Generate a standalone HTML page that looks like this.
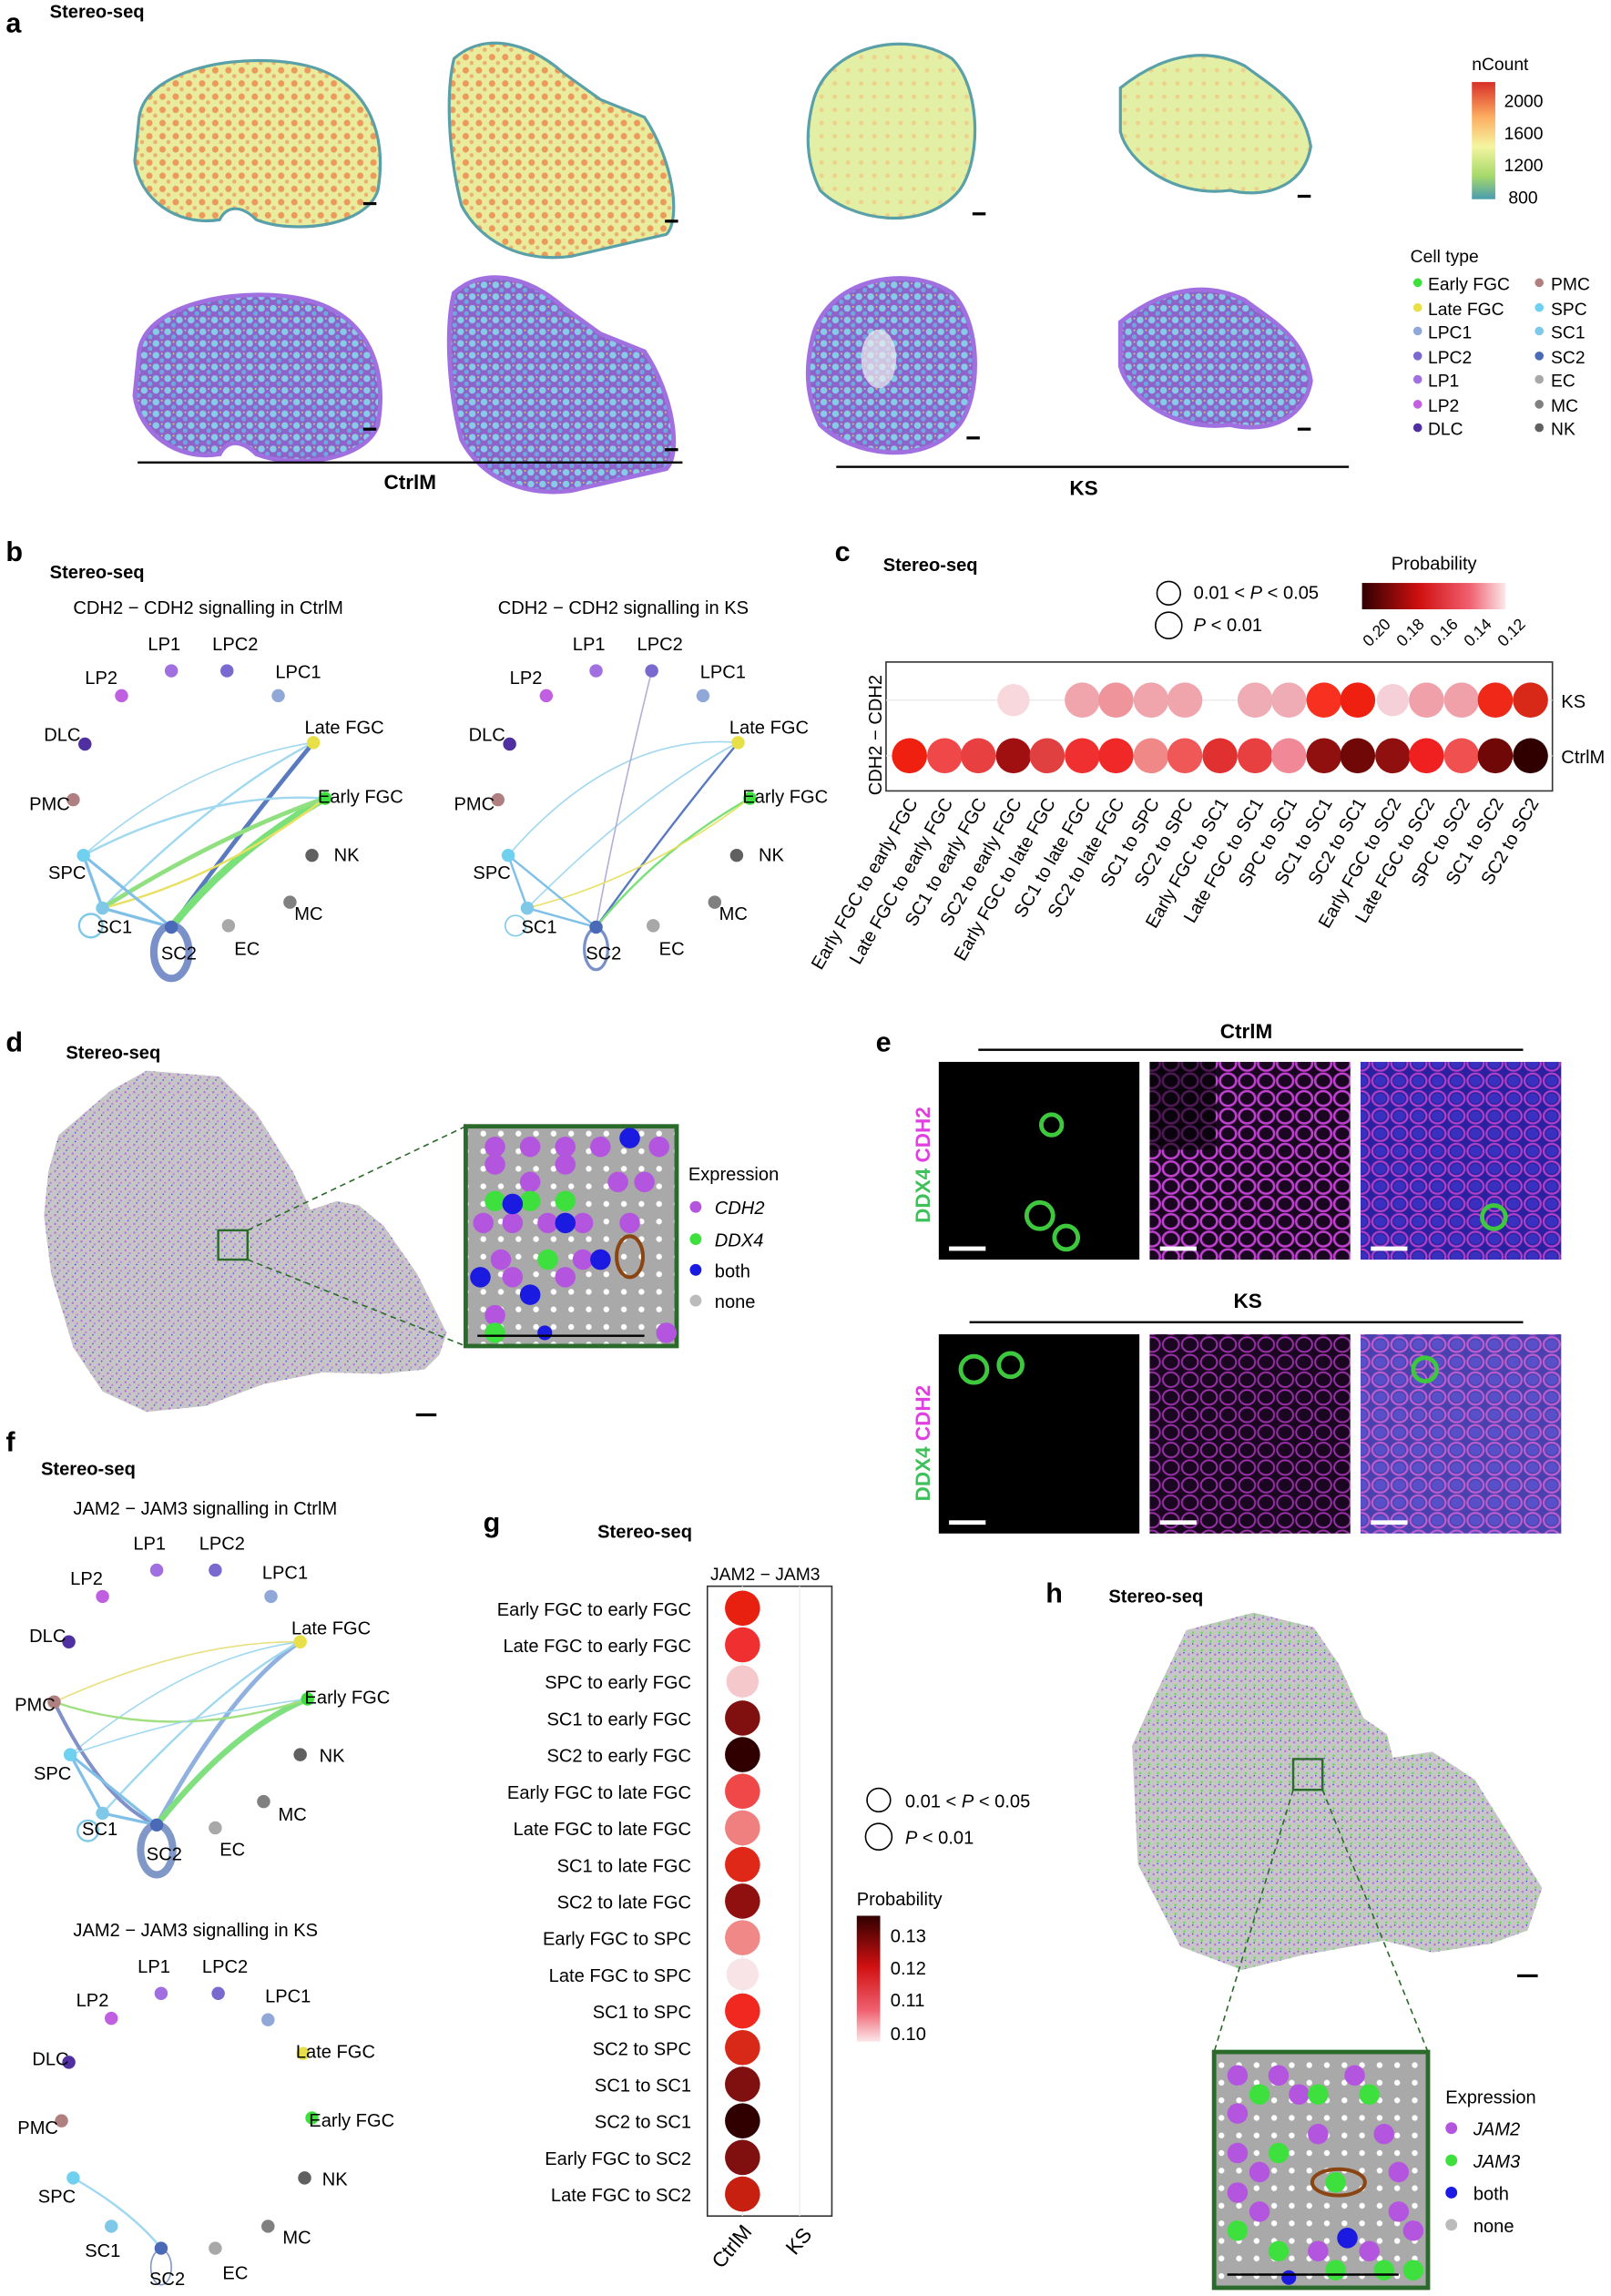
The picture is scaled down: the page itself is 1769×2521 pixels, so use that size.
<!DOCTYPE html>
<html><head><meta charset="utf-8"><style>
html,body{margin:0;padding:0;background:#fff}
svg{display:block;font-family:"Liberation Sans",Arial,sans-serif}
</style></head><body>
<svg width="1769" height="2521" viewBox="0 0 1100 1567.6" xmlns="http://www.w3.org/2000/svg">
<defs>
<pattern id="heat" width="9" height="9" patternUnits="userSpaceOnUse"><rect width="9" height="9" fill="#e9ec9c"/><circle cx="3" cy="3" r="2.2" fill="#ec9a5c"/><circle cx="7" cy="7" r="1.4" fill="#e9b070"/></pattern>
<pattern id="heat2" width="9" height="9" patternUnits="userSpaceOnUse"><rect width="9" height="9" fill="#e2efa4"/><circle cx="3" cy="3" r="1.5" fill="#eed08a"/></pattern>
<pattern id="cell" width="8" height="8" patternUnits="userSpaceOnUse"><rect width="8" height="8" fill="#8e62c8"/><circle cx="2.5" cy="2.5" r="2.3" fill="#86cbe8"/><circle cx="6.5" cy="6" r="1.6" fill="#6ea8e0"/><rect x="6" y="1" width="1" height="1" fill="#d8e060"/></pattern>
<pattern id="gray" width="6" height="6" patternUnits="userSpaceOnUse"><rect width="6" height="6" fill="#c6c6c6"/><rect x="1" y="1" width="1.3" height="1.3" fill="#b868e0"/><rect x="4" y="3" width="1.3" height="1.3" fill="#c080e0"/><rect x="3" y="5" width="0.8" height="0.8" fill="#2a2ae0"/></pattern>
<pattern id="gray2" width="6" height="6" patternUnits="userSpaceOnUse"><rect width="6" height="6" fill="#c6c6c6"/><rect x="1" y="1" width="1.3" height="1.3" fill="#b868e0"/><rect x="4" y="4" width="1.3" height="1.3" fill="#58e048"/><rect x="4" y="0" width="0.8" height="0.8" fill="#2a2ae0"/></pattern>
<pattern id="inset" width="12" height="12" patternUnits="userSpaceOnUse"><rect width="12" height="12" fill="#a9a9a9"/><circle cx="6" cy="6" r="2" fill="#fff"/></pattern>
<pattern id="mesh" width="13" height="12" patternUnits="userSpaceOnUse"><rect width="13" height="12" fill="#1a0620"/><ellipse cx="6.5" cy="6" rx="5.5" ry="5" fill="none" stroke="#c040d0" stroke-width="1.6"/></pattern>
<pattern id="mesh2" width="13" height="12" patternUnits="userSpaceOnUse"><rect width="13" height="12" fill="#1a0620"/><ellipse cx="6.5" cy="6" rx="5.5" ry="5" fill="none" stroke="#9a30a8" stroke-width="1.2"/></pattern>
<pattern id="meshb" width="13" height="12" patternUnits="userSpaceOnUse"><rect width="13" height="12" fill="#2a20a0"/><ellipse cx="6.5" cy="6" rx="4" ry="3.5" fill="#3a30c0"/><ellipse cx="6.5" cy="6" rx="5.5" ry="5" fill="none" stroke="#b040c8" stroke-width="1.4"/></pattern>
<linearGradient id="nc" x1="0" y1="0" x2="0" y2="1"><stop offset="0" stop-color="#d73027"/><stop offset=".3" stop-color="#fdae61"/><stop offset=".55" stop-color="#f5f5a0"/><stop offset=".8" stop-color="#a6d96a"/><stop offset="1" stop-color="#4a9cb0"/></linearGradient>
<linearGradient id="pr" x1="0" y1="0" x2="1" y2="0"><stop offset="0" stop-color="#300000"/><stop offset=".4" stop-color="#d01010"/><stop offset=".75" stop-color="#f06070"/><stop offset="1" stop-color="#fbe8ea"/></linearGradient>
<linearGradient id="pr2" x1="0" y1="0" x2="0" y2="1"><stop offset="0" stop-color="#300000"/><stop offset=".4" stop-color="#d01010"/><stop offset=".75" stop-color="#f06070"/><stop offset="1" stop-color="#fbe8ea"/></linearGradient>
</defs>
<g font-weight="bold" font-size="19"><text x="4" y="22">a</text><text x="4" y="383">b</text><text x="570" y="383">c</text><text x="4" y="718">d</text><text x="598" y="718">e</text><text x="4" y="991">f</text><text x="330" y="1046">g</text><text x="714" y="1094">h</text></g>
<g font-weight="bold" font-size="12.5"><text x="34" y="12">Stereo-seq</text><text x="34" y="395">Stereo-seq</text><text x="603" y="390">Stereo-seq</text><text x="45" y="723">Stereo-seq</text><text x="28" y="1007">Stereo-seq</text><text x="408" y="1050">Stereo-seq</text><text x="757" y="1094">Stereo-seq</text></g>
<!-- panel a -->
<g stroke="#5aa0a8" stroke-width="2">
<path d="M95,80 C100,45 170,35 210,45 C250,55 265,90 258,130 C250,155 200,160 175,150 C165,140 155,140 150,150 C120,155 95,135 92,110 Z" fill="url(#heat)"/>
<path d="M310,40 C330,22 360,28 385,50 L410,68 L440,80 C460,110 465,150 455,160 L390,175 C350,180 325,160 315,140 C305,100 305,60 310,40 Z" fill="url(#heat)"/>
<path d="M555,70 C565,30 620,20 650,40 C670,60 670,110 655,130 C630,160 580,150 560,130 C550,110 550,90 555,70 Z" fill="url(#heat2)"/>
<path d="M765,60 C790,40 820,30 850,45 C870,60 890,70 895,100 C890,130 860,135 840,130 C800,135 770,110 765,90 Z" fill="url(#heat2)"/>
</g>
<g stroke="#a070e0" stroke-width="3">
<path d="M95,240 C100,205 170,195 210,205 C250,215 265,250 258,290 C250,315 200,320 175,310 C165,300 155,300 150,310 C120,315 95,295 92,270 Z" fill="url(#cell)"/>
<path d="M310,200 C330,182 360,188 385,210 L410,228 L440,240 C460,270 465,310 455,320 L390,335 C350,340 325,320 315,300 C305,260 305,220 310,200 Z" fill="url(#cell)"/>
<path d="M555,230 C565,190 620,180 650,200 C670,220 670,270 655,290 C630,320 580,310 560,290 C550,270 550,250 555,230 Z" fill="url(#cell)"/>
<path d="M765,220 C790,200 820,190 850,205 C870,220 890,230 895,260 C890,290 860,295 840,290 C800,295 770,270 765,250 Z" fill="url(#cell)"/>
</g>
<ellipse cx="600" cy="245" rx="12" ry="20" fill="#eee" opacity=".7"/>
<g fill="#000"><rect x="248" y="138" width="9" height="2"/><rect x="454" y="150" width="9" height="2"/><rect x="664" y="145" width="9" height="2"/><rect x="886" y="133" width="9" height="2"/><rect x="248" y="292" width="9" height="2"/><rect x="454" y="306" width="9" height="2"/><rect x="660" y="298" width="9" height="2"/><rect x="886" y="292" width="9" height="2"/></g>
<rect x="94" y="315" width="372" height="1.5"/><rect x="571" y="318" width="350" height="1.5"/>
<g font-weight="bold" font-size="14" text-anchor="middle"><text x="280" y="334">CtrlM</text><text x="740" y="338">KS</text></g>
<text x="1005" y="48" font-size="12">nCount</text>
<rect x="1005" y="56" width="16" height="80" fill="url(#nc)"/>
<g font-size="12"><text x="1027" y="73">2000</text><text x="1027" y="95">1600</text><text x="1027" y="117">1200</text><text x="1030" y="139">800</text></g>
<text x="963" y="179" font-size="12">Cell type</text>
<g font-size="12">
<circle cx="968" cy="193" r="3" fill="#3ee03e"/><text x="975" y="198">Early FGC</text>
<circle cx="968" cy="210" r="3" fill="#e8e048"/><text x="975" y="215">Late FGC</text>
<circle cx="968" cy="226" r="3" fill="#90a8d8"/><text x="975" y="231">LPC1</text>
<circle cx="968" cy="243" r="3" fill="#7a6ad0"/><text x="975" y="248">LPC2</text>
<circle cx="968" cy="259" r="3" fill="#a070e0"/><text x="975" y="264">LP1</text>
<circle cx="968" cy="276" r="3" fill="#c060e0"/><text x="975" y="281">LP2</text>
<circle cx="968" cy="292" r="3" fill="#5030a0"/><text x="975" y="297">DLC</text>
<circle cx="1051" cy="193" r="3" fill="#b08080"/><text x="1059" y="198">PMC</text>
<circle cx="1051" cy="210" r="3" fill="#70d0f0"/><text x="1059" y="215">SPC</text>
<circle cx="1051" cy="226" r="3" fill="#80c8e8"/><text x="1059" y="231">SC1</text>
<circle cx="1051" cy="243" r="3" fill="#4a6ab8"/><text x="1059" y="248">SC2</text>
<circle cx="1051" cy="259" r="3" fill="#a8a8a8"/><text x="1059" y="264">EC</text>
<circle cx="1051" cy="276" r="3" fill="#808080"/><text x="1059" y="281">MC</text>
<circle cx="1051" cy="292" r="3" fill="#606060"/><text x="1059" y="297">NK</text>
</g>
<!-- panel b networks -->
<g font-size="12.5">
<text x="50" y="419">CDH2 − CDH2 signalling in CtrlM</text>
<g fill="none" stroke-linecap="round">
<path d="M70,620 Q150,540 214,507" stroke="#a0d8f0" stroke-width="1.5"/>
<path d="M117,633 Q170,560 214,507" stroke="#5a7ac0" stroke-width="3"/>
<path d="M117,633 Q160,580 222,545" stroke="#7ae07a" stroke-width="5"/>
<path d="M70,620 Q150,570 222,545" stroke="#90e080" stroke-width="3"/>
<path d="M57,584 Q140,540 222,545" stroke="#a0d8f0" stroke-width="1.5"/>
<path d="M57,584 Q130,520 214,507" stroke="#a0d8f0" stroke-width="1"/>
<path d="M222,545 Q150,600 70,620" stroke="#e8e060" stroke-width="1.5"/>
<path d="M57,584 L117,633 L70,620 Z" stroke="#80c0e8" stroke-width="2"/>
<ellipse cx="117" cy="650" rx="12" ry="18" stroke="#7a90c8" stroke-width="5"/>
<ellipse cx="62" cy="632" rx="8" ry="8" stroke="#80c8e8" stroke-width="1.5"/>
</g>
<circle cx="117" cy="458" r="4.5" fill="#a070e0"/><text x="101" y="444">LP1</text>
<circle cx="155" cy="458" r="4.5" fill="#7a6ad0"/><text x="145" y="444">LPC2</text>
<circle cx="190" cy="475" r="4.5" fill="#90a8d8"/><text x="188" y="463">LPC1</text>
<circle cx="83" cy="475" r="4.5" fill="#c060e0"/><text x="58" y="467">LP2</text>
<circle cx="58" cy="508" r="4.5" fill="#5030a0"/><text x="30" y="506">DLC</text>
<circle cx="214" cy="507" r="4.5" fill="#e8e048"/><text x="208" y="501">Late FGC</text>
<circle cx="222" cy="545" r="4.5" fill="#3ee03e"/><text x="217" y="548">Early FGC</text>
<circle cx="50" cy="546" r="4.5" fill="#b08080"/><text x="20" y="553">PMC</text>
<circle cx="213" cy="584" r="4.5" fill="#606060"/><text x="228" y="588">NK</text>
<circle cx="57" cy="584" r="4.5" fill="#70d0f0"/><text x="33" y="600">SPC</text>
<circle cx="198" cy="616" r="4.5" fill="#808080"/><text x="201" y="628">MC</text>
<circle cx="70" cy="620" r="4.5" fill="#80c8e8"/><text x="66" y="637">SC1</text>
<circle cx="156" cy="632" r="4.5" fill="#a8a8a8"/><text x="160" y="652">EC</text>
<circle cx="117" cy="633" r="4.5" fill="#4a6ab8"/><text x="110" y="655">SC2</text>
</g>
<g font-size="12.5" transform="translate(290,0)">
<text x="50" y="419">CDH2 − CDH2 signalling in KS</text>
<g fill="none">
<path d="M70,620 Q150,540 214,507" stroke="#a0d8f0" stroke-width="1"/>
<path d="M117,633 Q170,560 214,507" stroke="#5a7ac0" stroke-width="1.5"/>
<path d="M117,633 Q160,580 222,545" stroke="#7ae07a" stroke-width="1.5"/>
<path d="M57,584 Q130,500 214,507" stroke="#a0d8f0" stroke-width="1"/>
<path d="M155,458 Q130,560 117,633" stroke="#b0b0d8" stroke-width="1"/>
<path d="M222,545 Q150,600 70,620" stroke="#e8e060" stroke-width="1"/>
<path d="M57,584 L117,633 L70,620 Z" stroke="#80c0e8" stroke-width="1.5"/>
<ellipse cx="117" cy="648" rx="8" ry="14" stroke="#7a90c8" stroke-width="2"/>
<ellipse cx="62" cy="632" rx="7" ry="7" stroke="#80c8e8" stroke-width="1"/>
</g>
<circle cx="117" cy="458" r="4.5" fill="#a070e0"/><text x="101" y="444">LP1</text>
<circle cx="155" cy="458" r="4.5" fill="#7a6ad0"/><text x="145" y="444">LPC2</text>
<circle cx="190" cy="475" r="4.5" fill="#90a8d8"/><text x="188" y="463">LPC1</text>
<circle cx="83" cy="475" r="4.5" fill="#c060e0"/><text x="58" y="467">LP2</text>
<circle cx="58" cy="508" r="4.5" fill="#5030a0"/><text x="30" y="506">DLC</text>
<circle cx="214" cy="507" r="4.5" fill="#e8e048"/><text x="208" y="501">Late FGC</text>
<circle cx="222" cy="545" r="4.5" fill="#3ee03e"/><text x="217" y="548">Early FGC</text>
<circle cx="50" cy="546" r="4.5" fill="#b08080"/><text x="20" y="553">PMC</text>
<circle cx="213" cy="584" r="4.5" fill="#606060"/><text x="228" y="588">NK</text>
<circle cx="57" cy="584" r="4.5" fill="#70d0f0"/><text x="33" y="600">SPC</text>
<circle cx="198" cy="616" r="4.5" fill="#808080"/><text x="201" y="628">MC</text>
<circle cx="70" cy="620" r="4.5" fill="#80c8e8"/><text x="66" y="637">SC1</text>
<circle cx="156" cy="632" r="4.5" fill="#a8a8a8"/><text x="160" y="652">EC</text>
<circle cx="117" cy="633" r="4.5" fill="#4a6ab8"/><text x="110" y="655">SC2</text>
</g>
<!-- panel c -->
<g font-size="12.5">
<circle cx="798" cy="405" r="8" fill="none" stroke="#000"/><text x="815" y="409">0.01 &lt; <tspan font-style="italic">P</tspan> &lt; 0.05</text>
<circle cx="798" cy="427" r="9" fill="none" stroke="#000"/><text x="815" y="431"><tspan font-style="italic">P</tspan> &lt; 0.01</text>
<text x="950" y="389">Probability</text>
</g>
<rect x="930" y="398" width="98" height="18" fill="url(#pr)"/>
<g font-size="11">
<text transform="translate(935,442) rotate(-45)">0.20</text><text transform="translate(958,442) rotate(-45)">0.18</text><text transform="translate(981,442) rotate(-45)">0.16</text><text transform="translate(1004,442) rotate(-45)">0.14</text><text transform="translate(1027,442) rotate(-45)">0.12</text>
</g>
<rect x="605" y="452" width="455" height="88" fill="#fff" stroke="#333"/>
<g stroke="#e8e8e8" stroke-width="0.8">
<line x1="605" y1="478" x2="1060" y2="478"/><line x1="605" y1="516" x2="1060" y2="516"/>
</g>
<g>
<circle cx="692" cy="478" r="11" fill="#f8d8dc"/>
<circle cx="739" cy="478" r="12" fill="#f0a4ac"/><circle cx="762" cy="478" r="12" fill="#f0949c"/><circle cx="786" cy="478" r="12" fill="#f0a4ac"/><circle cx="809" cy="478" r="12" fill="#f0a4ac"/>
<circle cx="857" cy="478" r="12" fill="#f0acb4"/><circle cx="880" cy="478" r="12" fill="#f0acb4"/><circle cx="904" cy="478" r="12" fill="#f83020"/><circle cx="927" cy="478" r="12" fill="#f02010"/><circle cx="951" cy="478" r="11" fill="#f5d0d8"/><circle cx="974" cy="478" r="12" fill="#f0a0a8"/><circle cx="998" cy="478" r="12" fill="#f0a0a8"/><circle cx="1021" cy="478" r="12" fill="#f02818"/><circle cx="1045" cy="478" r="12" fill="#d82818"/>
<circle cx="621" cy="516" r="12" fill="#f02010"/><circle cx="645" cy="516" r="12" fill="#f04848"/><circle cx="668" cy="516" r="12" fill="#e84040"/><circle cx="692" cy="516" r="12" fill="#a01010"/><circle cx="715" cy="516" r="12" fill="#e04040"/><circle cx="739" cy="516" r="12" fill="#f03030"/><circle cx="762" cy="516" r="12" fill="#f02828"/><circle cx="786" cy="516" r="12" fill="#f08888"/><circle cx="809" cy="516" r="12" fill="#f05858"/><circle cx="833" cy="516" r="12" fill="#e03030"/><circle cx="857" cy="516" r="12" fill="#e84040"/><circle cx="880" cy="516" r="12" fill="#f08898"/><circle cx="904" cy="516" r="12" fill="#901010"/><circle cx="927" cy="516" r="12" fill="#700808"/><circle cx="951" cy="516" r="12" fill="#901010"/><circle cx="974" cy="516" r="12" fill="#f02020"/><circle cx="998" cy="516" r="12" fill="#f05050"/><circle cx="1021" cy="516" r="12" fill="#700808"/><circle cx="1045" cy="516" r="12" fill="#300000"/>
</g>
<g font-size="12.5"><text x="1066" y="483">KS</text><text x="1066" y="521">CtrlM</text>
<text transform="translate(602,543) rotate(-90)">CDH2 − CDH2</text></g>
<g font-size="12.5" text-anchor="end">
<text transform="translate(627,548) rotate(-60)">Early FGC to early FGC</text>
<text transform="translate(651,548) rotate(-60)">Late FGC to early FGC</text>
<text transform="translate(674,548) rotate(-60)">SC1 to early FGC</text>
<text transform="translate(698,548) rotate(-60)">SC2 to early FGC</text>
<text transform="translate(721,548) rotate(-60)">Early FGC to late FGC</text>
<text transform="translate(745,548) rotate(-60)">SC1 to late FGC</text>
<text transform="translate(768,548) rotate(-60)">SC2 to late FGC</text>
<text transform="translate(792,548) rotate(-60)">SC1 to SPC</text>
<text transform="translate(815,548) rotate(-60)">SC2 to SPC</text>
<text transform="translate(839,548) rotate(-60)">Early FGC to SC1</text>
<text transform="translate(863,548) rotate(-60)">Late FGC to SC1</text>
<text transform="translate(886,548) rotate(-60)">SPC to SC1</text>
<text transform="translate(910,548) rotate(-60)">SC1 to SC1</text>
<text transform="translate(933,548) rotate(-60)">SC2 to SC1</text>
<text transform="translate(957,548) rotate(-60)">Early FGC to SC2</text>
<text transform="translate(980,548) rotate(-60)">Late FGC to SC2</text>
<text transform="translate(1004,548) rotate(-60)">SPC to SC2</text>
<text transform="translate(1027,548) rotate(-60)">SC1 to SC2</text>
<text transform="translate(1051,548) rotate(-60)">SC2 to SC2</text>
</g>
<!-- panel d -->
<polygon points="33,800 40,775 75,745 100,731 150,735 175,760 200,800 212,826 230,820 245,823 262,837 285,870 305,910 300,925 290,935 260,938 220,937 180,945 140,960 100,964 70,950 50,920 35,870 30,830" fill="url(#gray)"/>
<rect x="149" y="840" width="20" height="20" fill="none" stroke="#2a6a2a" stroke-width="1.5"/>
<g stroke="#2a6a2a" stroke-dasharray="4,3"><line x1="169" y1="840" x2="318" y2="769"/><line x1="169" y1="860" x2="318" y2="919"/></g>
<rect x="318" y="769" width="144" height="150" fill="url(#inset)" stroke="#2a6a2a" stroke-width="3"/>
<g fill="#b455e0"><circle cx="338" cy="783" r="7"/><circle cx="362" cy="783" r="7"/><circle cx="386" cy="783" r="7"/><circle cx="410" cy="783" r="7"/><circle cx="450" cy="783" r="7"/><circle cx="338" cy="795" r="7"/><circle cx="362" cy="807" r="7"/><circle cx="386" cy="795" r="7"/><circle cx="422" cy="807" r="7"/><circle cx="440" cy="807" r="7"/><circle cx="330" cy="835" r="7"/><circle cx="350" cy="835" r="7"/><circle cx="374" cy="835" r="7"/><circle cx="398" cy="835" r="7"/><circle cx="342" cy="860" r="7"/><circle cx="410" cy="860" r="7"/><circle cx="350" cy="872" r="7"/><circle cx="386" cy="872" r="7"/><circle cx="398" cy="860" r="7"/><circle cx="430" cy="835" r="7"/><circle cx="455" cy="910" r="7"/><circle cx="338" cy="898" r="7"/></g>
<g fill="#3ee03e"><circle cx="338" cy="820" r="7"/><circle cx="362" cy="820" r="7"/><circle cx="386" cy="820" r="7"/><circle cx="374" cy="860" r="7"/><circle cx="338" cy="910" r="7"/></g>
<g fill="#1a1ae0"><circle cx="430" cy="777" r="7"/><circle cx="350" cy="822" r="7"/><circle cx="386" cy="835" r="7"/><circle cx="410" cy="860" r="7"/><circle cx="328" cy="872" r="7"/><circle cx="362" cy="884" r="7"/><circle cx="372" cy="910" r="5"/></g>
<ellipse cx="430" cy="858" rx="9" ry="14" fill="none" stroke="#8b4513" stroke-width="2.5"/>
<line x1="326" y1="912" x2="440" y2="912" stroke="#000" stroke-width="1.5"/>
<rect x="284" y="965" width="14" height="2"/>
<g font-size="12.5"><text x="470" y="806">Expression</text>
<circle cx="475" cy="824" r="4" fill="#b455e0"/><text x="488" y="829" font-style="italic">CDH2</text>
<circle cx="475" cy="846" r="4" fill="#3ee03e"/><text x="488" y="851" font-style="italic">DDX4</text>
<circle cx="475" cy="867" r="4" fill="#1a1ae0"/><text x="488" y="872">both</text>
<circle cx="475" cy="888" r="4" fill="#bbb"/><text x="488" y="893">none</text></g>
<!-- panel e -->
<g font-weight="bold" font-size="14" text-anchor="middle"><text x="851" y="709">CtrlM</text><text x="852" y="893">KS</text></g>
<rect x="668" y="716" width="372" height="1.5"/><rect x="662" y="902" width="378" height="1.5"/>
<rect x="641" y="725" width="137" height="135" fill="#000"/>
<rect x="785" y="725" width="137" height="135" fill="url(#mesh)"/>
<rect x="785" y="725" width="45" height="60" fill="#000" opacity=".6"/>
<rect x="929" y="725" width="137" height="135" fill="url(#meshb)"/>
<rect x="641" y="911" width="137" height="136" fill="#000"/>
<rect x="785" y="911" width="137" height="136" fill="url(#mesh2)"/>
<rect x="929" y="911" width="137" height="136" fill="url(#meshb)" opacity=".85"/>
<g fill="none" stroke="#3ec83e" stroke-width="3"><circle cx="718" cy="768" r="7"/><circle cx="710" cy="830" r="9"/><circle cx="728" cy="845" r="8"/><circle cx="665" cy="935" r="9"/><circle cx="690" cy="932" r="8"/><circle cx="1020" cy="831" r="8"/><circle cx="973" cy="935" r="8"/></g>
<g fill="#fff"><rect x="648" y="851" width="25" height="3"/><rect x="792" y="851" width="25" height="3"/><rect x="936" y="851" width="25" height="3"/><rect x="648" y="1038" width="25" height="3"/><rect x="792" y="1038" width="25" height="3"/><rect x="936" y="1038" width="25" height="3"/></g>
<g font-weight="bold" font-size="14"><text transform="translate(635,835) rotate(-90)"><tspan fill="#3ec05a">DDX4 </tspan><tspan fill="#e040e0">CDH2</tspan></text><text transform="translate(635,1025) rotate(-90)"><tspan fill="#3ec05a">DDX4 </tspan><tspan fill="#e040e0">CDH2</tspan></text></g>
<!-- panel f -->
<g font-size="12.5">
<text x="50" y="1034">JAM2 − JAM3 signalling in CtrlM</text>
<g fill="none">
<path d="M107,1246 Q160,1150 205,1121" stroke="#90b0e0" stroke-width="3"/>
<path d="M107,1246 Q160,1180 210,1160" stroke="#80e080" stroke-width="4"/>
<path d="M70,1238 Q150,1150 205,1121" stroke="#a0d8f0" stroke-width="1.5"/>
<path d="M48,1198 Q130,1130 205,1121" stroke="#a0d8f0" stroke-width="1"/>
<path d="M37,1162 Q130,1120 205,1121" stroke="#e8e080" stroke-width="1"/>
<path d="M37,1162 Q120,1190 210,1160" stroke="#a0e080" stroke-width="1.5"/>
<path d="M37,1162 Q70,1230 107,1246" stroke="#8090c8" stroke-width="2.5"/>
<path d="M48,1198 Q130,1170 210,1160" stroke="#a0d8f0" stroke-width="1"/>
<path d="M48,1198 L107,1246 L70,1238 Z" stroke="#80c0e8" stroke-width="2"/>
<ellipse cx="107" cy="1263" rx="11" ry="17" stroke="#8098c8" stroke-width="5"/>
<ellipse cx="60" cy="1250" rx="7" ry="7" stroke="#80c8e8" stroke-width="1.5"/>
</g>
<circle cx="107" cy="1072" r="4.5" fill="#a070e0"/><text x="91" y="1058">LP1</text>
<circle cx="147" cy="1072" r="4.5" fill="#7a6ad0"/><text x="136" y="1058">LPC2</text>
<circle cx="185" cy="1090" r="4.5" fill="#90a8d8"/><text x="179" y="1078">LPC1</text>
<circle cx="70" cy="1090" r="4.5" fill="#c060e0"/><text x="48" y="1082">LP2</text>
<circle cx="47" cy="1121" r="4.5" fill="#5030a0"/><text x="20" y="1121">DLC</text>
<circle cx="205" cy="1121" r="4.5" fill="#e8e048"/><text x="199" y="1116">Late FGC</text>
<circle cx="210" cy="1160" r="4.5" fill="#3ee03e"/><text x="208" y="1163">Early FGC</text>
<circle cx="37" cy="1162" r="4.5" fill="#b08080"/><text x="10" y="1168">PMC</text>
<circle cx="205" cy="1198" r="4.5" fill="#606060"/><text x="218" y="1203">NK</text>
<circle cx="48" cy="1198" r="4.5" fill="#70d0f0"/><text x="23" y="1215">SPC</text>
<circle cx="180" cy="1230" r="4.5" fill="#808080"/><text x="190" y="1243">MC</text>
<circle cx="70" cy="1238" r="4.5" fill="#80c8e8"/><text x="56" y="1253">SC1</text>
<circle cx="147" cy="1248" r="4.5" fill="#a8a8a8"/><text x="150" y="1267">EC</text>
<circle cx="107" cy="1246" r="4.5" fill="#4a6ab8"/><text x="100" y="1270">SC2</text>
</g>
<g font-size="12.5">
<text x="50" y="1322">JAM2 − JAM3 signalling in KS</text>
<path d="M50,1487 Q90,1510 110,1535" fill="none" stroke="#a0d8f0" stroke-width="1.5"/>
<ellipse cx="110" cy="1548" rx="7" ry="12" fill="none" stroke="#8098c8" stroke-width="1"/>
<circle cx="110" cy="1361" r="4.5" fill="#a070e0"/><text x="94" y="1347">LP1</text>
<circle cx="149" cy="1361" r="4.5" fill="#7a6ad0"/><text x="138" y="1347">LPC2</text>
<circle cx="183" cy="1379" r="4.5" fill="#90a8d8"/><text x="181" y="1367">LPC1</text>
<circle cx="76" cy="1378" r="4.5" fill="#c060e0"/><text x="52" y="1370">LP2</text>
<circle cx="47" cy="1408" r="4.5" fill="#5030a0"/><text x="22" y="1410">DLC</text>
<circle cx="207" cy="1402" r="4.5" fill="#e8e048"/><text x="202" y="1405">Late FGC</text>
<circle cx="213" cy="1446" r="4.5" fill="#3ee03e"/><text x="211" y="1452">Early FGC</text>
<circle cx="42" cy="1448" r="4.5" fill="#b08080"/><text x="12" y="1457">PMC</text>
<circle cx="208" cy="1487" r="4.5" fill="#606060"/><text x="220" y="1492">NK</text>
<circle cx="50" cy="1487" r="4.5" fill="#70d0f0"/><text x="26" y="1504">SPC</text>
<circle cx="183" cy="1520" r="4.5" fill="#808080"/><text x="193" y="1532">MC</text>
<circle cx="76" cy="1520" r="4.5" fill="#80c8e8"/><text x="58" y="1541">SC1</text>
<circle cx="147" cy="1535" r="4.5" fill="#a8a8a8"/><text x="152" y="1556">EC</text>
<circle cx="110" cy="1535" r="4.5" fill="#4a6ab8"/><text x="102" y="1560">SC2</text>
</g>
<!-- panel g -->
<text x="485" y="1079" font-size="12">JAM2 − JAM3</text>
<rect x="483" y="1083" width="85" height="430" fill="#fff" stroke="#333"/>
<g stroke="#ececec" stroke-width=".8"><line x1="507" y1="1083" x2="507" y2="1513"/><line x1="546" y1="1083" x2="546" y2="1513"/></g>
<g>
<circle cx="507" cy="1098" r="12" fill="#e82010"/><circle cx="507" cy="1123" r="12" fill="#f03030"/><circle cx="507" cy="1148" r="11" fill="#f5c8cc"/><circle cx="507" cy="1173" r="12" fill="#801010"/><circle cx="507" cy="1198" r="12" fill="#300000"/><circle cx="507" cy="1223" r="12" fill="#f04848"/><circle cx="507" cy="1248" r="12" fill="#f08080"/><circle cx="507" cy="1273" r="12" fill="#e02818"/><circle cx="507" cy="1298" r="12" fill="#901010"/><circle cx="507" cy="1323" r="12" fill="#f08888"/><circle cx="507" cy="1348" r="11" fill="#f8e4e6"/><circle cx="507" cy="1373" r="12" fill="#f02820"/><circle cx="507" cy="1398" r="12" fill="#d82818"/><circle cx="507" cy="1423" r="12" fill="#801010"/><circle cx="507" cy="1448" r="12" fill="#300000"/><circle cx="507" cy="1473" r="12" fill="#801010"/><circle cx="507" cy="1498" r="12" fill="#c82010"/>
</g>
<g font-size="12.5" text-anchor="end">
<text x="472" y="1103">Early FGC to early FGC</text><text x="472" y="1128">Late FGC to early FGC</text><text x="472" y="1153">SPC to early FGC</text><text x="472" y="1178">SC1 to early FGC</text><text x="472" y="1203">SC2 to early FGC</text><text x="472" y="1228">Early FGC to late FGC</text><text x="472" y="1253">Late FGC to late FGC</text><text x="472" y="1278">SC1 to late FGC</text><text x="472" y="1303">SC2 to late FGC</text><text x="472" y="1328">Early FGC to SPC</text><text x="472" y="1353">Late FGC to SPC</text><text x="472" y="1378">SC1 to SPC</text><text x="472" y="1403">SC2 to SPC</text><text x="472" y="1428">SC1 to SC1</text><text x="472" y="1453">SC2 to SC1</text><text x="472" y="1478">Early FGC to SC2</text><text x="472" y="1503">Late FGC to SC2</text>
<text font-size="14" transform="translate(514,1524) rotate(-50)">CtrlM</text><text font-size="14" transform="translate(555,1526) rotate(-50)">KS</text>
</g>
<g font-size="12.5">
<circle cx="600" cy="1229" r="8" fill="none" stroke="#000"/><text x="618" y="1234">0.01 &lt; <tspan font-style="italic">P</tspan> &lt; 0.05</text>
<circle cx="600" cy="1254" r="9" fill="none" stroke="#000"/><text x="618" y="1259"><tspan font-style="italic">P</tspan> &lt; 0.01</text>
<text x="585" y="1301">Probability</text>
<text x="608" y="1326">0.13</text><text x="608" y="1348">0.12</text><text x="608" y="1370">0.11</text><text x="608" y="1393">0.10</text>
</g>
<rect x="585" y="1308" width="16" height="86" fill="url(#pr2)"/>
<!-- panel h -->
<polygon points="856,1101 897,1111 914,1136 931,1173 947,1184 951,1200 978,1196 1007,1215 1053,1289 1043,1318 1018,1327 978,1333 945,1325 889,1335 848,1345 806,1329 777,1273 773,1192 788,1159 810,1113" fill="url(#gray2)"/>
<rect x="883" y="1201" width="20" height="21" fill="none" stroke="#2a6a2a" stroke-width="1.5"/>
<g stroke="#2a6a2a" stroke-dasharray="4,3"><line x1="883" y1="1222" x2="829" y2="1401"/><line x1="903" y1="1222" x2="975" y2="1401"/></g>
<rect x="1036" y="1348" width="14" height="2"/>
<rect x="829" y="1401" width="146" height="161" fill="url(#inset)" stroke="#2a6a2a" stroke-width="3"/>
<g fill="#b455e0"><circle cx="845" cy="1417" r="7"/><circle cx="873" cy="1417" r="7"/><circle cx="925" cy="1417" r="7"/><circle cx="845" cy="1443" r="7"/><circle cx="887" cy="1430" r="7"/><circle cx="845" cy="1470" r="7"/><circle cx="860" cy="1483" r="7"/><circle cx="900" cy="1457" r="7"/><circle cx="945" cy="1457" r="7"/><circle cx="860" cy="1510" r="7"/><circle cx="955" cy="1510" r="7"/><circle cx="965" cy="1523" r="7"/><circle cx="935" cy="1537" r="7"/><circle cx="900" cy="1537" r="7"/><circle cx="845" cy="1497" r="7"/><circle cx="955" cy="1483" r="7"/></g>
<g fill="#3ee03e"><circle cx="860" cy="1430" r="7"/><circle cx="900" cy="1430" r="7"/><circle cx="935" cy="1430" r="7"/><circle cx="873" cy="1470" r="7"/><circle cx="912" cy="1490" r="7"/><circle cx="845" cy="1523" r="7"/><circle cx="873" cy="1537" r="7"/><circle cx="912" cy="1550" r="7"/><circle cx="945" cy="1550" r="7"/><circle cx="965" cy="1550" r="7"/></g>
<g fill="#1a1ae0"><circle cx="920" cy="1528" r="7"/><circle cx="880" cy="1555" r="5"/></g>
<ellipse cx="914" cy="1490" rx="18" ry="9" fill="none" stroke="#8b4513" stroke-width="2.5"/>
<line x1="838" y1="1553" x2="955" y2="1553" stroke="#000" stroke-width="1.5"/>
<g font-size="12.5"><text x="987" y="1436">Expression</text>
<circle cx="991" cy="1453" r="4" fill="#b455e0"/><text x="1006" y="1458" font-style="italic">JAM2</text>
<circle cx="991" cy="1475" r="4" fill="#3ee03e"/><text x="1006" y="1480" font-style="italic">JAM3</text>
<circle cx="991" cy="1497" r="4" fill="#1a1ae0"/><text x="1006" y="1502">both</text>
<circle cx="991" cy="1519" r="4" fill="#bbb"/><text x="1006" y="1524">none</text></g>
</svg>
</body></html>
